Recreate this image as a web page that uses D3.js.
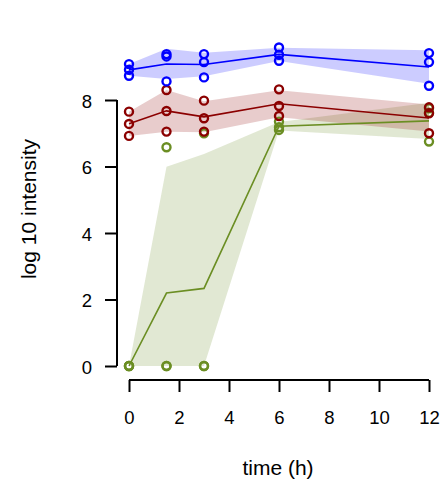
<!DOCTYPE html>
<html>
<head>
<meta charset="utf-8">
<script src="https://cdn.jsdelivr.net/npm/d3@7"></script>
<style>
html,body{margin:0;padding:0;background:#fff;}
svg{display:block;}
text{font-family:"Liberation Sans",Arial,Helvetica,sans-serif;fill:#000;}
</style>
</head>
<body>
<svg id="chart" width="442" height="485"></svg>
<script>
// ---- data ----
const times = [0, 1.5, 3, 6, 12];
const xTicks = [0, 2, 4, 6, 8, 10, 12];
const yTicks = [0, 2, 4, 6, 8];
const seriesNames = ["green", "red", "blue"];
const seriesColors = ["#6B8E23", "#8B0000", "#0000FF"];
// replicate values per time point
const greenValues = [[0, 0, 0], [6.58, 0, 0], [7.00, 0, 0], [7.35, 7.18, 7.10], [7.75, 7.62, 6.75]];
const redValues   = [[7.65, 7.28, 6.92], [8.30, 7.67, 7.05], [7.98, 7.45, 7.05], [8.32, 7.82, 7.52], [7.78, 7.60, 7.00]];
const blueValues  = [[9.08, 8.91, 8.73], [9.38, 9.31, 8.56], [9.38, 9.14, 8.68], [9.58, 9.36, 9.18], [9.41, 9.14, 8.43]];
const xLabel = "time (h)";
const yLabel = "log 10 intensity";

const allValues = [greenValues, redValues, blueValues];

const svg = d3.select("#chart");
const x = d3.scaleLinear().domain([0, 12]).range([129, 429]);
const y = d3.scaleLinear().domain([0, 8]).range([366, 100]);
const tickFont = 18.5;
const labelFont = 21;

// summary (mean +/- sd, lower bound at 0)
const summaries = allValues.map(vals => vals.map((reps, i) => {
  const m = d3.mean(reps);
  const s = d3.deviation(reps) || 0;
  return {t: times[i], mean: m, lo: Math.max(0, m - s), hi: m + s};
}));

// bands
const area = d3.area().x(d => x(d.t)).y0(d => y(d.lo)).y1(d => y(d.hi));
summaries.forEach((sm, k) => {
  svg.append("path").attr("d", area(sm))
    .attr("fill", seriesColors[k]).attr("fill-opacity", 0.2).attr("stroke", "none");
});
// mean lines
const line = d3.line().x(d => x(d.t)).y(d => y(d.mean));
summaries.forEach((sm, k) => {
  svg.append("path").attr("d", line(sm))
    .attr("fill", "none").attr("stroke", seriesColors[k]).attr("stroke-width", 1.6);
});
// points
allValues.forEach((vals, k) => {
  const pts = [];
  vals.forEach((reps, i) => reps.forEach(v => pts.push({t: times[i], v})));
  svg.append("g").selectAll("circle").data(pts).join("circle")
    .attr("cx", d => x(d.t)).attr("cy", d => y(d.v)).attr("r", 4)
    .attr("fill", "none").attr("stroke", seriesColors[k]).attr("stroke-width", 2.4);
});

// axes
const xAxis = svg.append("g").attr("transform", "translate(0,380)")
  .call(d3.axisBottom(x).tickValues(xTicks).tickSize(12).tickPadding(19).tickFormat(d3.format("d")));
const yAxis = svg.append("g").attr("transform", "translate(117,0)")
  .call(d3.axisLeft(y).tickValues(yTicks).tickSize(12).tickPadding(13).tickFormat(d3.format("d")));
[xAxis, yAxis].forEach(a => {
  a.select(".domain").attr("stroke", "#000").attr("stroke-width", 2);
  a.selectAll(".tick line").attr("stroke", "#000").attr("stroke-width", 2);
  a.selectAll(".tick text").attr("font-size", tickFont).attr("font-family", "Liberation Sans, Arial, sans-serif").attr("fill", "#000");
});
yAxis.selectAll(".tick text").attr("dy", "0.4em");
xAxis.select(".domain").attr("d", `M${x(0)},0H${x(12)}`);
yAxis.select(".domain").attr("d", `M0,${y(8)}V${y(0)}`);

svg.append("text").attr("x", 278).attr("y", 475).attr("text-anchor", "middle")
  .attr("font-size", labelFont).text(xLabel);
svg.append("text").attr("transform", "translate(36,209) rotate(-90)").attr("text-anchor", "middle")
  .attr("font-size", labelFont).text(yLabel);
</script>
</body>
</html>
